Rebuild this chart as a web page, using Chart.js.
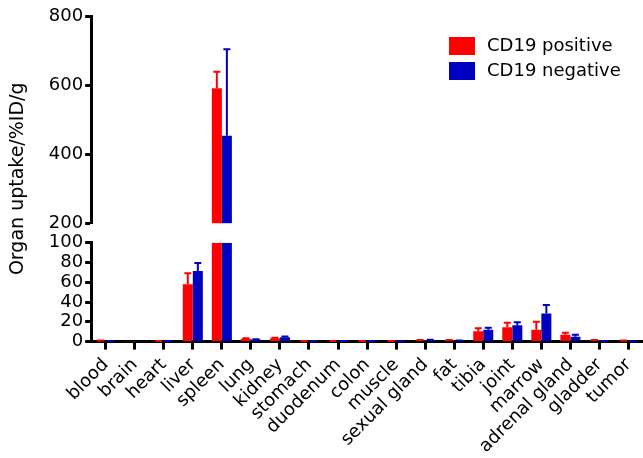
<!DOCTYPE html>
<html><head><meta charset="utf-8">
<script src="https://cdn.jsdelivr.net/npm/chart.js@4/dist/chart.umd.min.js"></script>
<style>html,body{margin:0;padding:0;background:#fff;}canvas{display:block;}</style>
</head><body>
<canvas id="c" width="643" height="458"></canvas>
<script>
const categories = ['blood','brain','heart','liver','spleen','lung','kidney','stomach','duodenum','colon','muscle','sexual gland','fat','tibia','joint','marrow','adrenal gland','gladder','tumor'];
const positiveValues = [0.8, 0.1, 0.6, 58, 591, 3, 3.5, 0.5, 0.5, 0.6, 0.4, 1.2, 1.3, 10.5, 14.5, 12, 7, 1.2, 0.9];
const positiveErrors = [0.2, 0, 0.1, 11, 48, 0.5, 0.5, 0.1, 0.1, 0.1, 0.1, 0.3, 0.3, 3, 4.5, 8, 2, 0.3, 0.2];
const negativeValues = [0.5, 0.1, 0.4, 71.5, 454, 2, 4.5, 0.3, 0.4, 0.4, 0.2, 1.5, 0.8, 12, 16.5, 28.5, 5, 0.5, 0.3];
const negativeErrors = [0.1, 0, 0.1, 8, 250, 0.3, 0.6, 0.1, 0.1, 0.1, 0.1, 0.3, 0.2, 2, 3, 8.5, 2, 0.2, 0.1];
const seriesNames = ['CD19 positive', 'CD19 negative'];
const lowerRange = [0, 100];
const upperRange = [200, 800];
const lowerStep = 20;
const upperStep = 200;

const RED = '#ff0000', BLUE = '#0000c0';
const FONT = '"DejaVu Sans", sans-serif';
Chart.defaults.font.family = FONT;
Chart.defaults.color = '#000';

const lowerPart = vals => vals.map(v => Math.min(v, lowerRange[1]));
const upperPart = vals => vals.map(v => v > upperRange[0] ? v : null);

function makeSets(values, errors, name, color, stack) {
  return [
    {label: name, data: lowerPart(values), fullValues: values, errors: errors, yAxisID: 'yLow', stack: stack,
     backgroundColor: color, borderWidth: 0, part: 'low'},
    {label: name, data: upperPart(values), fullValues: values, errors: errors, yAxisID: 'yHigh', stack: stack,
     base: upperRange[0], backgroundColor: color, borderWidth: 0, part: 'high'}
  ];
}

const errorBarPlugin = {
  id: 'errorBars',
  afterDatasetsDraw(chart) {
    const ctx = chart.ctx;
    ctx.save();
    chart.data.datasets.forEach((ds, di) => {
      const meta = chart.getDatasetMeta(di);
      const scale = chart.scales[ds.yAxisID];
      meta.data.forEach((bar, i) => {
        const v = ds.fullValues[i];
        const e = ds.errors[i];
        if (!e) return;
        if (ds.part === 'low' && v > lowerRange[1]) return;
        if (ds.part === 'high' && !(v > upperRange[0])) return;
        const yTop = scale.getPixelForValue(v + e);
        const yBar = scale.getPixelForValue(v);
        ctx.strokeStyle = ds.backgroundColor;
        ctx.lineWidth = 2;
        ctx.beginPath();
        ctx.moveTo(bar.x, yBar);
        ctx.lineTo(bar.x, yTop);
        ctx.moveTo(bar.x - 3.5, yTop);
        ctx.lineTo(bar.x + 3.5, yTop);
        ctx.stroke();
      });
    });
    ctx.restore();
  }
};

const legendPlugin = {
  id: 'cornerLegend',
  afterDraw(chart) {
    const ctx = chart.ctx, a = chart.chartArea;
    ctx.save();
    ctx.font = '18px ' + FONT;
    ctx.textBaseline = 'middle';
    [RED, BLUE].forEach((col, i) => {
      const x = a.right - 194, y = a.top + 21 + i * 25;
      ctx.fillStyle = col;
      ctx.fillRect(x, y, 26, 18);
      ctx.fillStyle = '#000';
      ctx.fillText(seriesNames[i], x + 38, y + 9);
    });
    ctx.restore();
  }
};

const yCommon = {
  type: 'linear', position: 'left', stack: 'y', stacked: false,
  grid: {drawOnChartArea: false, drawTicks: true, tickLength: 6, tickWidth: 3, tickColor: '#000'},
  border: {display: true, color: '#000', width: 3},
  ticks: {color: '#000', font: {size: 18}, padding: 2, autoSkip: false}
};

new Chart(document.getElementById('c'), {
  type: 'bar',
  data: {
    labels: categories,
    datasets: [
      ...makeSets(positiveValues, positiveErrors, seriesNames[0], RED, 'pos'),
      ...makeSets(negativeValues, negativeErrors, seriesNames[1], BLUE, 'neg')
    ]
  },
  options: {
    responsive: false,
    animation: false,
    devicePixelRatio: 1,
    categoryPercentage: 0.69,
    barPercentage: 1,
    layout: {padding: {left: 7, right: 0, top: 16, bottom: -4}},
    plugins: {legend: {display: false}, tooltip: {enabled: false}},
    scales: {
      x: {
        type: 'category', offset: true,
        afterFit: scale => { scale.paddingRight = 0; },
        grid: {offset: false, drawOnChartArea: false, drawTicks: true, tickLength: 8, tickWidth: 3, tickColor: '#000'},
        border: {display: true, color: '#000', width: 3},
        ticks: {minRotation: 45, maxRotation: 45, autoSkip: false, color: '#000', font: {size: 18, lineHeight: 1.0}, padding: 6}
      },
      yLow: Object.assign({}, yCommon, {stackWeight: 99, min: lowerRange[0], max: lowerRange[1],
        ticks: Object.assign({}, yCommon.ticks, {stepSize: lowerStep})}),
      yGap: {type: 'linear', position: 'left', stack: 'y', stackWeight: 19, min: 0, max: 1,
        grid: {display: false}, border: {display: false}, ticks: {display: false}},
      yHigh: Object.assign({}, yCommon, {stackWeight: 208, min: upperRange[0], max: upperRange[1],
        ticks: Object.assign({}, yCommon.ticks, {stepSize: upperStep})}),
      yTitle: {type: 'linear', position: 'left', weight: 5, min: 0, max: 1,
        grid: {display: false}, border: {display: false}, ticks: {display: false},
        title: {display: true, text: 'Organ uptake/%ID/g', color: '#000', font: {size: 19}, padding: {top: 0, bottom: 9}}}
    }
  },
  plugins: [errorBarPlugin, legendPlugin]
});
</script>
</body></html>
